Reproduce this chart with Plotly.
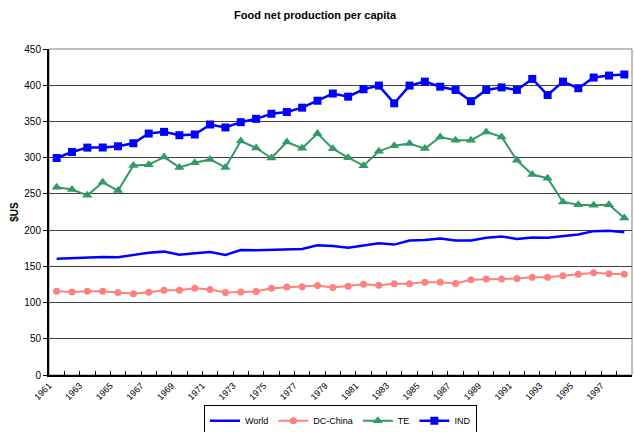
import plotly.graph_objects as go

years = list(range(1961, 1999))

world = [160.6, 161.5, 161.5, 162.9, 162.5, 165.7, 168.9, 170.3, 166.1, 168.0,
         169.9, 165.7, 172.6, 172.2, 172.6, 174.0, 174.0, 179.2, 178.2, 175.8,
         178.6, 181.9, 180.0, 185.6, 186.5, 188.3, 185.6, 185.6, 189.3, 191.1,
         187.9, 189.7, 189.3, 192.1, 193.9, 198.6, 199.0, 197.2]

dc_china = [115.7, 114.7, 115.7, 115.7, 113.9, 112.0, 114.3, 117.0, 117.0, 119.9,
            118.0, 113.9, 114.7, 115.3, 119.9, 121.3, 121.7, 123.6, 120.8, 122.6,
            125.4, 124.0, 125.8, 125.8, 128.2, 128.2, 126.4, 131.4, 132.4, 132.4,
            133.3, 135.1, 135.1, 136.9, 138.9, 141.1, 139.7, 138.9]

te = [259.2, 256.0, 248.0, 266.0, 254.6, 289.3, 290.3, 300.8, 286.5, 293.0,
      297.6, 286.5, 323.0, 313.3, 299.5, 321.7, 313.0, 333.3, 312.3, 300.0,
      289.0, 308.7, 316.6, 319.4, 312.5, 328.6, 324.0, 324.0, 335.6, 328.6,
      296.3, 276.8, 271.7, 238.9, 235.1, 234.2, 235.1, 216.7]

ind = [299.5, 307.8, 313.9, 314.0, 315.7, 319.9, 333.3, 335.6, 331.0, 332.0,
       345.8, 341.7, 349.0, 353.6, 360.6, 363.0, 369.0, 378.6, 388.5, 384.2,
       394.4, 399.5, 375.0, 399.5, 405.0, 398.0, 393.5, 378.0, 393.5, 397.0,
       393.5, 408.7, 386.5, 405.0, 395.8, 410.6, 413.3, 414.8]

tick_labels = [str(y) if (y - 1961) % 2 == 0 else "" for y in years]

fig = go.Figure()
fig.add_trace(go.Scatter(x=years, y=world, name="World", mode="lines",
                         line=dict(color="#0000FF", width=2.5)))
fig.add_trace(go.Scatter(x=years, y=dc_china, name="DC-China", mode="lines+markers",
                         line=dict(color="#FF8080", width=2),
                         marker=dict(symbol="circle", size=7, color="#FF8080")))
fig.add_trace(go.Scatter(x=years, y=te, name="TE", mode="lines+markers",
                         line=dict(color="#339966", width=2),
                         marker=dict(symbol="triangle-up", size=9, color="#339966")))
fig.add_trace(go.Scatter(x=years, y=ind, name="IND", mode="lines+markers",
                         line=dict(color="#0000FF", width=2.5),
                         marker=dict(symbol="square", size=8, color="#0000FF")))

font_family = "Liberation Sans, Arial, sans-serif"

fig.update_layout(
    width=634, height=432,
    margin=dict(l=49, r=2, t=49, b=57, autoexpand=False),
    paper_bgcolor="white", plot_bgcolor="white",
    font=dict(family=font_family, size=10, color="black"),
    title=dict(text="<b>Food net production per capita</b>", x=0.497, xanchor="center",
               y=0.965, yanchor="middle", font=dict(size=11, family=font_family)),
    showlegend=True,
    legend=dict(orientation="h", x=0.5, xanchor="center", y=-0.093, yanchor="top",
                bordercolor="black", borderwidth=1, font=dict(size=9),
                itemwidth=30, tracegroupgap=0),
    shapes=[dict(type="rect", xref="paper", yref="paper", x0=0, x1=1, y0=0, y1=1,
                 line=dict(color="#808080", width=1), layer="below")],
)

fig.update_xaxes(
    range=[1960.5, 1998.5],
    tickmode="array",
    tickvals=[y - 0.5 for y in years],
    ticktext=tick_labels,
    tickangle=-45,
    ticks="inside", ticklen=4, tickcolor="black",
    showline=True, linecolor="black", linewidth=2,
    showgrid=False, zeroline=False,
    tickfont=dict(size=9),
    automargin=False,
)
fig.update_yaxes(
    range=[0, 450], dtick=50, tick0=0,
    ticks="outside", ticklen=4, tickcolor="black",
    showline=True, linecolor="black", linewidth=2,
    showgrid=True, gridcolor="#404040", gridwidth=1,
    zeroline=False,
    title=dict(text="<b>$US</b>", font=dict(size=10), standoff=4),
    tickfont=dict(size=10),
    automargin=False,
)

fig.write_html("out.html")
